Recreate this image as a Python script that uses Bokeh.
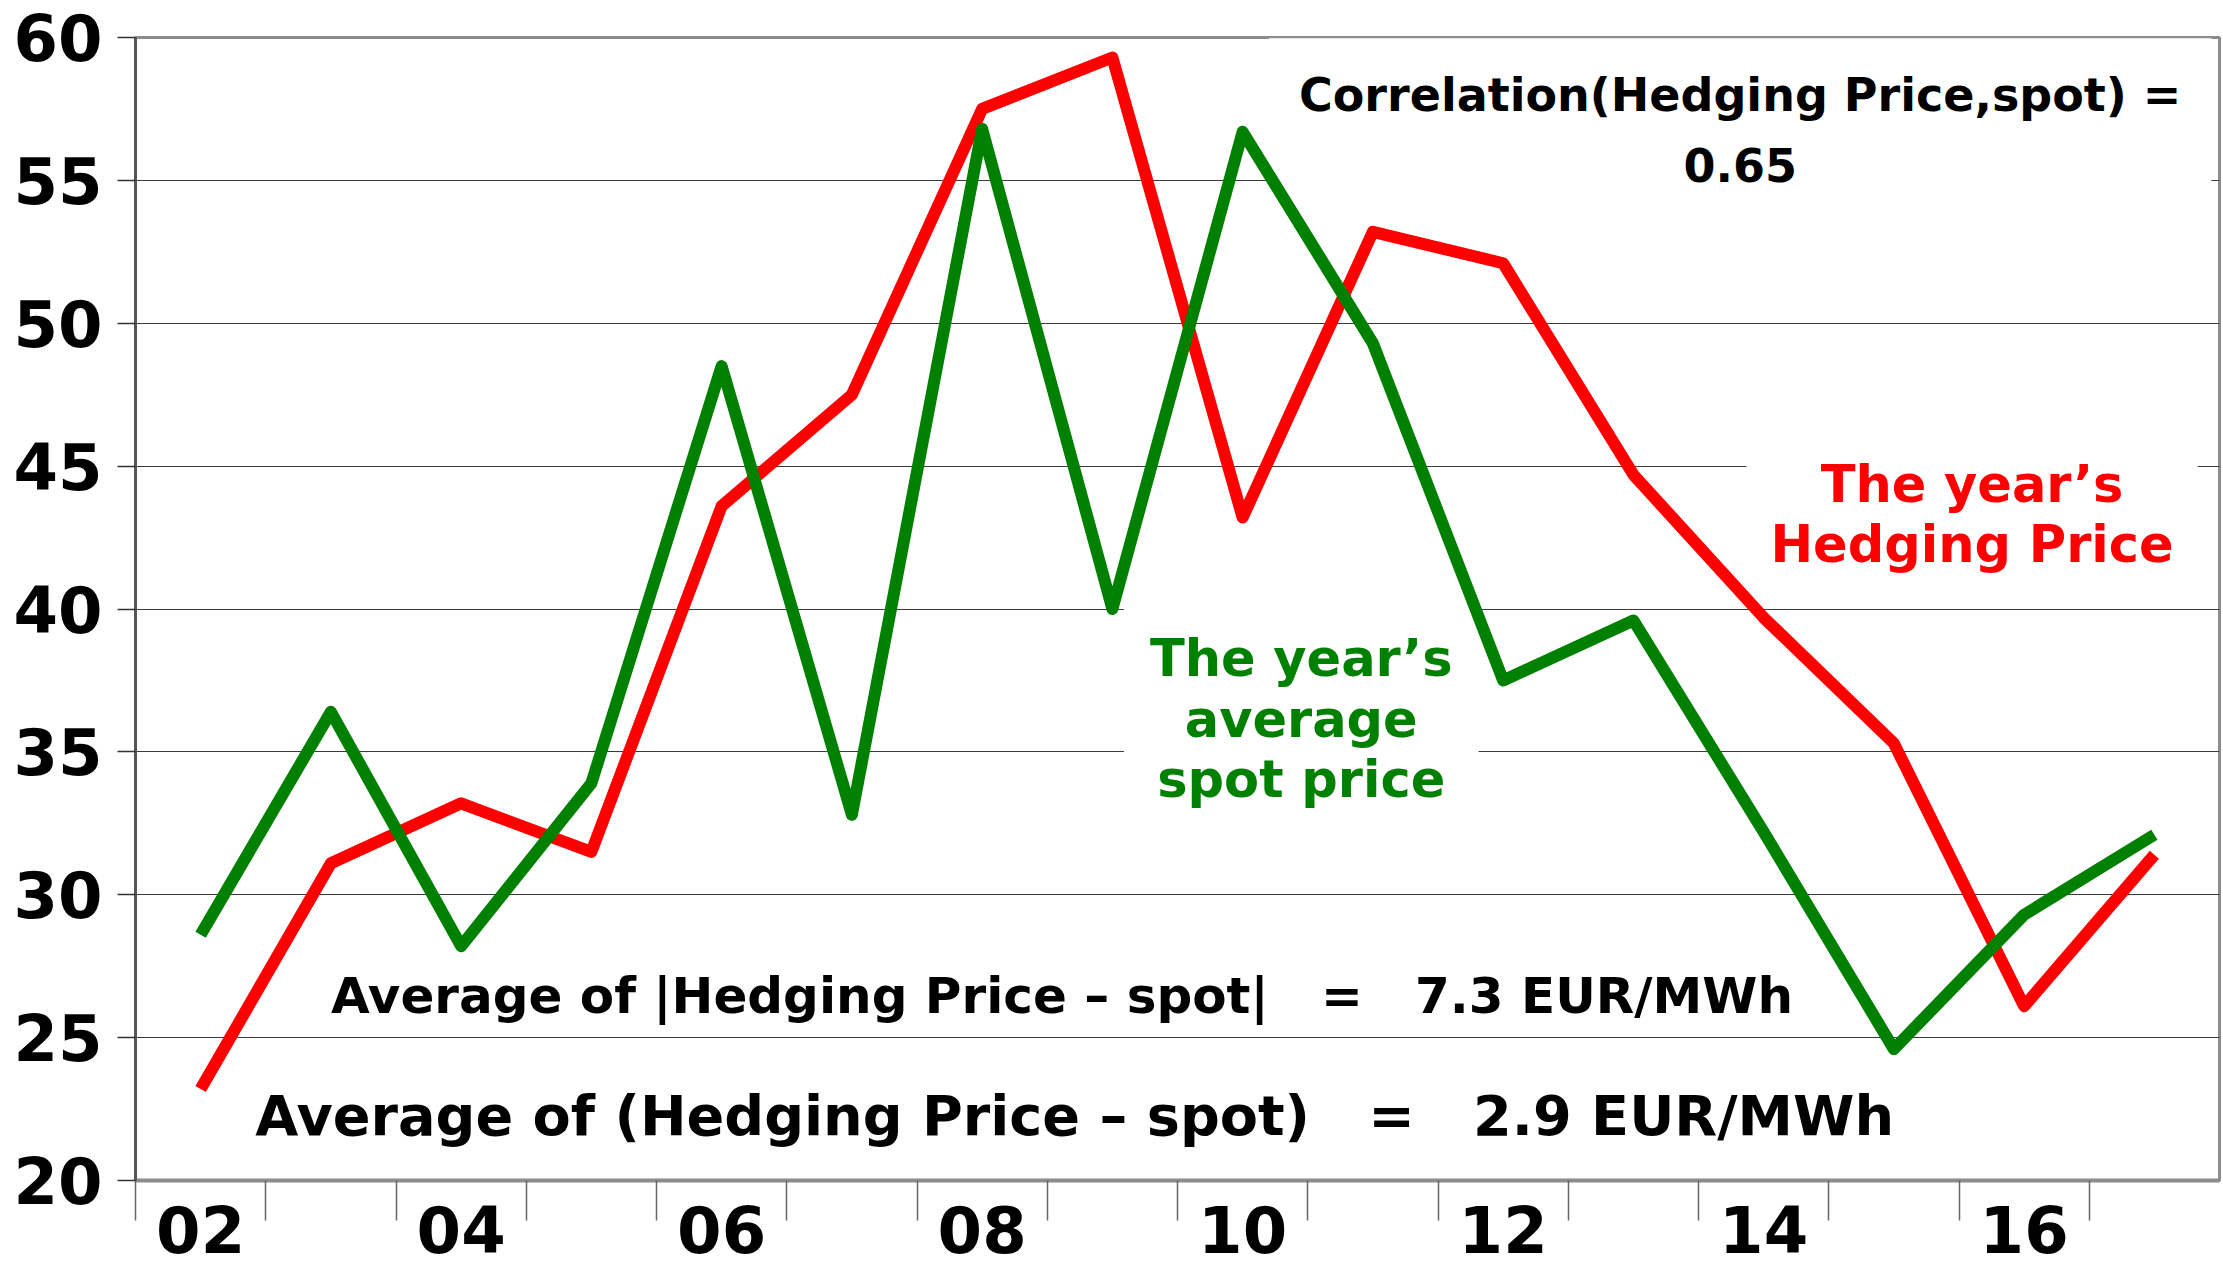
from bokeh.plotting import figure
from bokeh.models import Range1d, FixedTicker, Label
from bokeh.embed import file_html
from bokeh.resources import INLINE

# ---- data ----
years = ["02", "03", "04", "05", "06", "07", "08", "09",
         "10", "11", "12", "13", "14", "15", "16", "17"]
hedging_price = [23.2, 31.1, 33.2, 31.5, 43.6, 47.5, 57.5, 59.3,
                 43.2, 53.2, 52.1, 44.7, 39.7, 35.3, 26.1, 31.4]
spot_price = [28.6, 36.4, 28.2, 33.9, 48.5, 32.8, 56.8, 40.0,
              56.7, 49.3, 37.5, 39.6, 32.2, 24.6, 29.3, 32.1]
y_ticks = [20, 25, 30, 35, 40, 45, 50, 55, 60]
labelled_years = ["02", "04", "06", "08", "10", "12", "14", "16"]

corr_text = "Correlation(Hedging Price,spot) =\n0.65"
hedge_text = "The year\u2019s\nHedging Price"
spot_text = "The year\u2019s\naverage\nspot price"
NB = "\u00a0"
abs_text = "Average of |Hedging Price \u2013 spot|" + NB * 3 + "=" + NB * 3 + "7.3 EUR/MWh"
diff_text = "Average of (Hedging Price \u2013 spot)" + NB * 3 + "=" + NB * 3 + "2.9 EUR/MWh"

FONT = "DejaVu Sans"

xs = list(range(len(years)))

p = figure(frame_width=2084, frame_height=1143,
           min_border_left=135, min_border_top=37, min_border_right=2, min_border_bottom=99,
           x_range=Range1d(-0.5, len(years) - 0.5), y_range=Range1d(y_ticks[0], y_ticks[-1]),
           output_backend="svg", toolbar_location=None)

p.background_fill_color = "white"
p.border_fill_color = "white"
p.outline_line_color = "#8c8c8c"
p.outline_line_width = 3

# grid
p.xgrid.visible = False
p.ygrid.ticker = FixedTicker(ticks=y_ticks)
p.ygrid.grid_line_color = "#3a3a3a"
p.ygrid.grid_line_width = 1.2

# y axis
p.yaxis.ticker = FixedTicker(ticks=y_ticks)
p.yaxis.axis_line_color = "#555555"
p.yaxis.axis_line_width = 3
p.yaxis.major_tick_in = 0
p.yaxis.major_tick_out = 18
p.yaxis.major_tick_line_color = "#333333"
p.yaxis.major_tick_line_width = 1.5
p.yaxis.minor_tick_line_color = None
p.yaxis.major_label_standoff = 15
p.yaxis.major_label_text_font = FONT
p.yaxis.major_label_text_font_style = "bold"
p.yaxis.major_label_text_font_size = "64px"
p.yaxis.major_label_text_color = "black"

# x axis
major_x = [years.index(y) for y in labelled_years]
bounds = [i - 0.5 for i in xs]
p.xaxis.ticker = FixedTicker(ticks=major_x, minor_ticks=bounds)
p.xaxis.major_label_overrides = {years.index(y): y for y in labelled_years}
p.xaxis.axis_line_color = "#8c8c8c"
p.xaxis.axis_line_width = 4
p.xaxis.major_tick_in = 0
p.xaxis.major_tick_out = 0
p.xaxis.minor_tick_in = 0
p.xaxis.minor_tick_out = 40
p.xaxis.minor_tick_line_color = "#666666"
p.xaxis.minor_tick_line_width = 1.5
p.xaxis.major_label_standoff = -15
p.xaxis.major_label_text_font = FONT
p.xaxis.major_label_text_font_style = "bold"
p.xaxis.major_label_text_font_size = "64px"
p.xaxis.major_label_text_color = "black"

# text boxes (under the lines)
def add_label(text, x, y, color, size, align="center", bg=None, pad=0, lh=1.0):
    lab = Label(x=x, y=y, text=text, text_align=align, text_baseline="middle",
                text_font=FONT, text_font_style="bold", text_font_size=size,
                text_color=color, text_line_height=lh, level="underlay")
    if bg is not None:
        lab.background_fill_color = bg
        lab.padding = pad
    p.add_layout(lab)

add_label(corr_text, 11.82, 56.74, "black", "46px", bg="white", pad=30, lh=1.31)
add_label(hedge_text, 13.60, 43.32, "#ff0000", "51px", bg="white", pad=24, lh=1.02)
add_label(spot_text, 8.45, 36.15, "#008000", "51px", bg="white", pad=26, lh=1.02)
add_label(abs_text, 1.0, 26.44, "black", "50px", align="left")
add_label(diff_text, 0.42, 22.29, "black", "55.7px", align="left")

# series
p.line(xs, hedging_price, line_color="#ff0000", line_width=12, line_join="round")
p.line(xs, spot_price, line_color="#008000", line_width=12, line_join="round")

open("out.html", "w").write(file_html(p, INLINE))
